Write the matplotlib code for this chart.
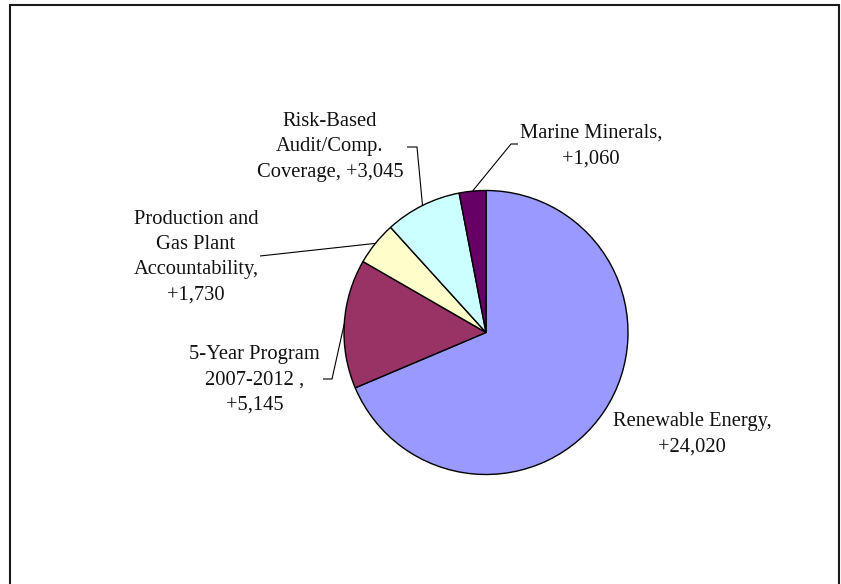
import matplotlib
matplotlib.use("Agg")
import numpy as np
import matplotlib.pyplot as plt
from matplotlib.patches import Rectangle

# Budget increases by program area
categories = [
    "Renewable Energy,",
    "5-Year Program\n2007-2012 ,",
    "Production and\nGas Plant\nAccountability,",
    "Risk-Based\nAudit/Comp.\nCoverage,",
    "Marine Minerals,",
]
values = [24020, 5145, 1730, 3045, 1060]
value_sep = ["\n", "\n", "\n", " ", "\n"]
colors = ["#9999FF", "#993366", "#FFFFCC", "#CCFFFF", "#660066"]

W, H = 841, 584
fig = plt.figure(figsize=(W / 100, H / 100), dpi=100)
ax = fig.add_axes([0, 0, 1, 1])

# Pie geometry in pixel units (y measured upward)
cx, cy, r = 486, H - 332.5, 142
wedges, _ = ax.pie(
    values,
    colors=colors,
    startangle=90,
    counterclock=False,
    center=(cx, cy),
    radius=r,
    wedgeprops=dict(edgecolor="black", linewidth=1.0),
    frame=True,
)
ax.set_xlim(0, W)
ax.set_ylim(0, H)
ax.set_aspect("equal")
ax.axis("off")

# Label placement: (text centre x, text centre y, leader elbow, leader end), y from top
layout = [
    (692, 434.5, None, None),
    (254.5, 380, (332, 379), (323, 379)),
    (196, 257, (260, 256), (260, 256)),
    (330, 147, (417, 147), (407, 147)),
    (591, 146, (511, 144), (518, 144)),
]

font = dict(family="Liberation Serif", fontsize=14.8, color="#111111")
for w, cat, v, sep, (tx, ty, elbow, end) in zip(wedges, categories, values, value_sep, layout):
    ax.text(tx, H - ty, f"{cat}{sep}+{v:,}", ha="center", va="center",
            multialignment="center", linespacing=1.45, **font)
    if elbow is not None:
        mid = np.deg2rad((w.theta1 + w.theta2) / 2)
        ex, ey = cx + r * np.cos(mid), cy + r * np.sin(mid)
        ax.plot([ex, elbow[0], end[0]], [ey, H - elbow[1], H - end[1]],
                color="black", linewidth=0.8, solid_capstyle="butt")

# Outer chart frame
ax.add_patch(Rectangle((10, -10), 829, H - 5 + 10, fill=False,
                       edgecolor="#1a1a1a", linewidth=1.5, clip_on=False))

fig.savefig("out.png", dpi=100)
